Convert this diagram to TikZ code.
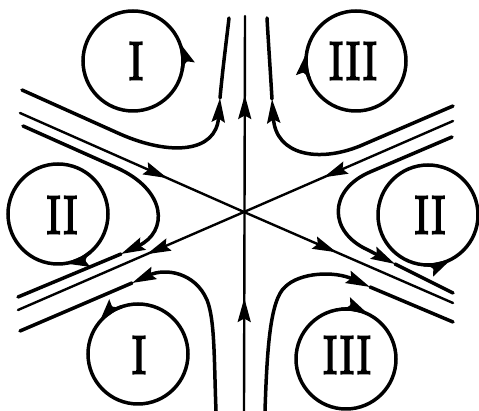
\documentclass[tikz,border=0pt]{standalone}
\usepackage{fontspec}
\newfontfamily\labfont{Latin Modern Roman}[AutoFakeBold=4]
\usetikzlibrary{arrows.meta,decorations.markings}
\begin{document}
\begin{tikzpicture}[x=1pt,y=1pt,
  flow/.style={line width=3.5pt, line cap=round, line join=round},
  sep/.style={line width=2.4pt, line cap=round},
  tip/.style={-{Stealth[length=24pt,width=13pt,inset=3.5pt]}},
  midarrow/.style={postaction={decorate,decoration={markings,mark=at position #1 with {\arrow{Stealth[length=24pt,width=13pt,inset=3.5pt]}}}}},
  orbit/.style={circle, draw, line width=3.5pt, minimum size=100pt, inner sep=0pt},
  lab/.style={font=\labfont\bfseries\fontsize{54}{54}\selectfont, inner sep=0pt}
]
\useasboundingbox (0,0) rectangle (479,411);

% saddle point and separatrices
\coordinate (O) at (244,199);
\coordinate (vb) at (244,0);
\coordinate (vt) at (245,395);
\coordinate (ul) at (20,298);
\coordinate (lr) at (453,108);
\coordinate (ur) at (453,290);
\coordinate (ll) at (18,101);
\draw[sep,midarrow=113pt,midarrow=316pt] (vb) -- (vt);
\draw[sep,midarrow=161pt] (ul) -- (O);
\draw[sep,midarrow=106pt] (O) -- (ll);
\draw[sep,midarrow=141pt] (ur) -- (O);
\draw[sep,midarrow=101pt] (O) -- (lr);

% outer trajectories
\coordinate (a1) at (22,321); \coordinate (a2) at (220,313); \coordinate (a3) at (229,393);
\draw[flow,tip] (a1) -- (120,277) .. controls (170,255) and (216,258) .. (a2);
\draw[flow] (a2) .. controls (223,345) and (227,375) .. (a3);

\coordinate (b1) at (453,305); \coordinate (b2) at (272,312); \coordinate (b3) at (267,393);
\draw[flow,tip] (b1) -- (360,265) .. controls (318,248) and (276,256) .. (b2);
\draw[flow] (b2) .. controls (270,345) and (268,375) .. (b3);

\coordinate (c1) at (216,0); \coordinate (c2) at (132,128); \coordinate (c3) at (20,80);
\draw[flow,tip] (c1) .. controls (214,51) and (215,91) .. (207,111) .. controls (195,139) and (165,143) .. (c2);
\draw[flow] (c2) -- (c3);

\coordinate (d1) at (265,0); \coordinate (d2) at (370,124); \coordinate (d3) at (453,89);
\draw[flow,tip] (d1) .. controls (267,61) and (270,111) .. (285,124) .. controls (300,139) and (335,140) .. (d2);
\draw[flow] (d2) -- (d3);

% hyperbolic trajectories around II
\coordinate (e1) at (23,285); \coordinate (e2) at (121,157); \coordinate (e3) at (18,114);
\draw[flow,tip] (e1) -- (115,244) .. controls (168,221) and (168,179) .. (e2);
\draw[flow] (e2) -- (e3);

\coordinate (f1) at (452,274); \coordinate (f2) at (395,147); \coordinate (f3) at (453,118);
\draw[flow,tip] (f1) -- (370,239) .. controls (328,221) and (328,179) .. (368,161) -- (f2);
\draw[flow] (f2) -- (f3);

% closed orbits
\node[orbit] (c1u) at (133,350) {};
\node[orbit] (c3u) at (356,350) {};
\node[orbit] (c2l) at (58,197) {};
\node[orbit] (c2r) at (428,196) {};
\node[orbit] (c1l) at (138,57) {};
\node[orbit] (c3l) at (346,52) {};

\draw[flow,tip] (c1u.center) ++(-10:50) arc[start angle=-10,end angle=22,radius=50];
\draw[flow,tip] (c3u.center) ++(202:50) arc[start angle=202,end angle=170,radius=50];
\draw[flow,tip] (c2l.center) ++(-50:50) arc[start angle=-50,end angle=-82,radius=50];
\draw[flow,tip] (c2r.center) ++(-94:50) arc[start angle=-94,end angle=-62,radius=50];
\draw[flow,tip] (c1l.center) ++(109:50) arc[start angle=109,end angle=141,radius=50];
\draw[flow,tip] (c3l.center) ++(95:50) arc[start angle=95,end angle=63,radius=50];

% labels
\node[lab] (t1u) at (136,350) {\scalebox{0.88}[1]{I}};
\node[lab] (t3u) at (353,350) {\scalebox{0.88}[1]{III}};
\node[lab] (t2l) at (62,196) {\scalebox{0.88}[1]{II}};
\node[lab] (t2r) at (430,196) {\scalebox{0.88}[1]{II}};
\node[lab] (t1l) at (139,56) {\scalebox{0.88}[1]{I}};
\node[lab] (t3l) at (347,56) {\scalebox{0.88}[1]{III}};
\end{tikzpicture}
\end{document}
